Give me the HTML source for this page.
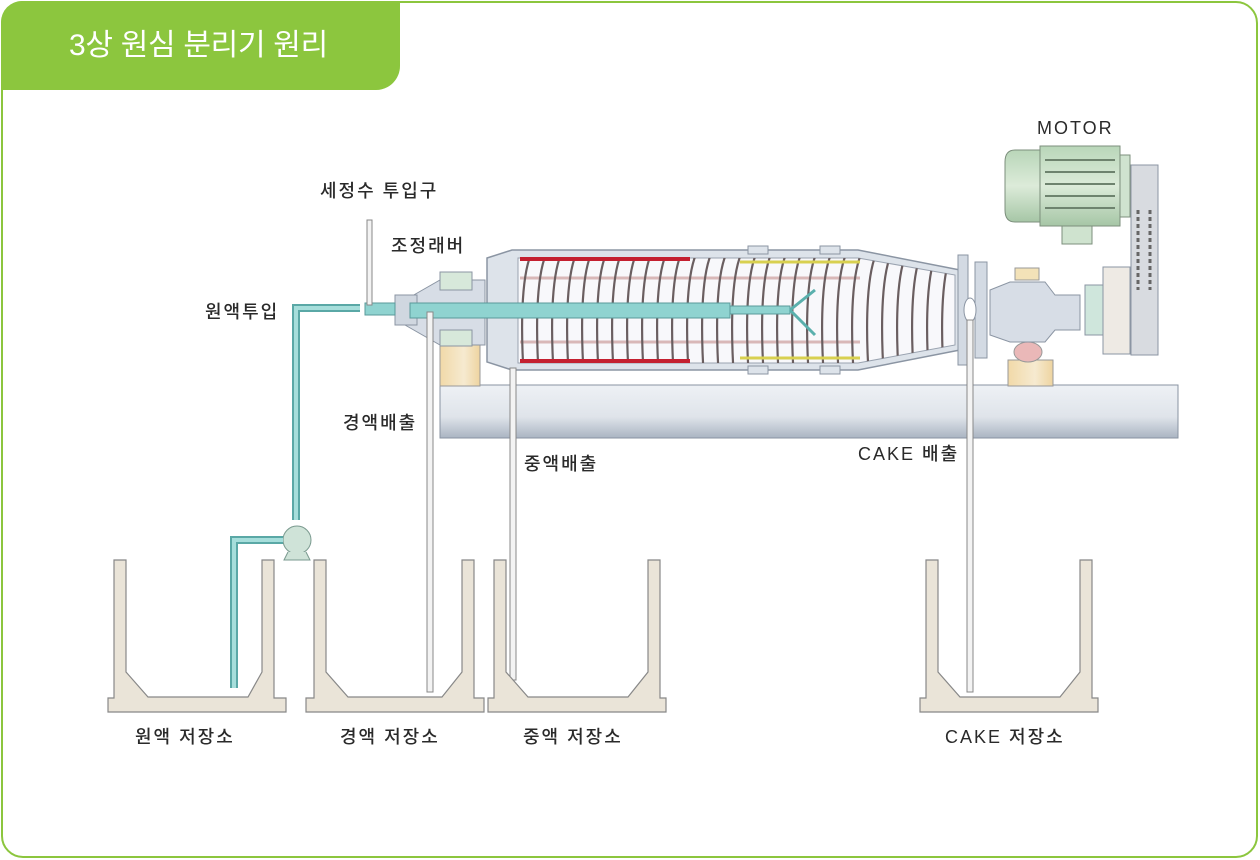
<!DOCTYPE html>
<html><head><meta charset="utf-8"><style>
html,body{margin:0;padding:0;background:#fff}
body{width:1260px;height:860px;position:relative;overflow:hidden;font-family:"Liberation Sans","Noto Sans CJK KR",sans-serif}
.frame{position:absolute;left:1px;top:1px;width:1257px;height:857px;border:2px solid #8cc63e;border-radius:22px;box-sizing:border-box}
.tab{position:absolute;left:1px;top:1px;width:399px;height:89px;background:#8cc63e;border-radius:21px 0 24px 0;color:#fff;font-size:30px;line-height:89px;padding-left:68px;box-sizing:border-box;letter-spacing:-0.3px}
svg{position:absolute;left:0;top:0}
text{font-family:"Liberation Sans","Noto Sans CJK KR",sans-serif;font-size:18px;fill:#2a2a2a;letter-spacing:2px;font-weight:500}
</style></head><body>
<div class="frame"></div>
<div class="tab">3상 원심 분리기 원리</div>
<svg width="1260" height="860" viewBox="0 0 1260 860">
<defs>
<linearGradient id="bar" x1="0" y1="0" x2="0" y2="1"><stop offset="0" stop-color="#eef1f5"/><stop offset="0.6" stop-color="#dfe4ea"/><stop offset="1" stop-color="#aab4c2"/></linearGradient>
<linearGradient id="mot" x1="0" y1="0" x2="0" y2="1"><stop offset="0" stop-color="#b9d6b9"/><stop offset="0.5" stop-color="#dcebd9"/><stop offset="1" stop-color="#a6c6a6"/></linearGradient>
<linearGradient id="foot" x1="0" y1="0" x2="1" y2="0"><stop offset="0" stop-color="#f1d9a8"/><stop offset="0.6" stop-color="#f6ead0"/><stop offset="1" stop-color="#eed4a0"/></linearGradient>
<pattern id="sp" width="15" height="130" patternUnits="userSpaceOnUse" x="520" y="250">
<path d="M13 0 C2 20 0 70 4 130" stroke="#6a5e60" stroke-width="2.2" fill="none"/>
</pattern>
<clipPath id="drumclip"><path d="M518 258 L858 258 L955 275 L955 345 L858 363 L518 363 Z"/></clipPath>
</defs>

<rect x="440" y="385" width="738" height="53" fill="url(#bar)" stroke="#8893a2"/>

<rect x="440" y="338" width="40" height="48" fill="url(#foot)" stroke="#999"/>
<rect x="448" y="325" width="24" height="15" fill="#cfe5d3" stroke="#999"/>
<rect x="1008" y="360" width="45" height="26" fill="url(#foot)" stroke="#999"/>
<ellipse cx="1028" cy="352" rx="14" ry="10" fill="#eab8b8" stroke="#999"/>
<rect x="1015" y="268" width="24" height="12" fill="#f3e2b8" stroke="#999"/>

<path d="M405 300 L440 280 L485 280 L485 345 L440 345 L405 325 Z" fill="#d7dde6" stroke="#8b95a3"/>
<rect x="440" y="272" width="32" height="18" fill="#d7e8da" stroke="#8b95a3"/>
<rect x="440" y="330" width="32" height="16" fill="#d7e8da" stroke="#8b95a3"/>
<rect x="395" y="295" width="22" height="30" fill="#d0d7e0" stroke="#8b95a3"/>

<path d="M487 258 L512 250 L858 250 L960 270 L960 350 L858 370 L512 370 L487 362 Z" fill="#dde3ea" stroke="#8b95a3" stroke-width="1.5"/>
<path d="M518 258 L858 258 L955 275 L955 345 L858 363 L518 363 Z" fill="#f8f8fb" stroke="#9aa3b0"/>
<line x1="520" y1="278" x2="860" y2="278" stroke="#d9b8b8" stroke-width="3"/>
<line x1="520" y1="342" x2="860" y2="342" stroke="#d9b8b8" stroke-width="3"/>
<rect x="518" y="258" width="437" height="105" fill="url(#sp)" clip-path="url(#drumclip)"/>
<line x1="520" y1="259" x2="690" y2="259" stroke="#c42030" stroke-width="4"/>
<line x1="520" y1="361" x2="690" y2="361" stroke="#c42030" stroke-width="4"/>
<line x1="740" y1="262" x2="860" y2="262" stroke="#d8d050" stroke-width="3"/>
<line x1="740" y1="358" x2="860" y2="358" stroke="#d8d050" stroke-width="3"/>
<rect x="748" y="246" width="20" height="8" fill="#dde3ea" stroke="#8b95a3"/>
<rect x="820" y="246" width="20" height="8" fill="#dde3ea" stroke="#8b95a3"/>
<rect x="748" y="366" width="20" height="8" fill="#dde3ea" stroke="#8b95a3"/>
<rect x="820" y="366" width="20" height="8" fill="#dde3ea" stroke="#8b95a3"/>

<rect x="365" y="303" width="30" height="12" fill="#8fd3d0" stroke="#5a9a9a"/>
<rect x="410" y="303" width="320" height="15" fill="#8fd3d0" stroke="#5a9a9a"/>
<rect x="730" y="306" width="60" height="8" fill="#8fd3d0" stroke="#5a9a9a"/>
<path d="M790 310 L815 290 M790 310 L815 335" stroke="#5ab0ad" stroke-width="3"/>

<rect x="958" y="255" width="10" height="110" fill="#d3dae3" stroke="#8b95a3"/>
<rect x="975" y="262" width="12" height="96" fill="#d3dae3" stroke="#8b95a3"/>
<ellipse cx="970" cy="310" rx="6" ry="12" fill="#fff" stroke="#8b95a3"/>
<path d="M990 290 L1010 282 L1045 282 L1055 295 L1080 295 L1080 330 L1055 330 L1045 342 L1010 342 L990 335 Z" fill="#d7dde6" stroke="#8b95a3"/>
<rect x="1085" y="285" width="20" height="50" fill="#cfe6dc" stroke="#8b95a3"/>
<rect x="1103" y="267" width="27" height="87" fill="#eeeae4" stroke="#8b95a3"/>

<path d="M1015 150 L1040 150 L1040 222 L1015 222 Q1005 222 1005 210 L1005 162 Q1005 150 1015 150 Z" fill="url(#mot)" stroke="#7c8f7c"/>
<rect x="1040" y="146" width="80" height="80" fill="url(#mot)" stroke="#7c8f7c"/>
<g stroke="#6e836e" stroke-width="2"><line x1="1045" y1="160" x2="1115" y2="160"/><line x1="1045" y1="172" x2="1115" y2="172"/><line x1="1045" y1="184" x2="1115" y2="184"/><line x1="1045" y1="196" x2="1115" y2="196"/><line x1="1045" y1="208" x2="1115" y2="208"/></g>
<rect x="1120" y="155" width="10" height="62" fill="#cfe3cf" stroke="#7c8f7c"/>
<rect x="1062" y="226" width="30" height="18" fill="#cfe3cf" stroke="#7c8f7c"/>
<rect x="1131" y="165" width="27" height="190" fill="#d8dbe0" stroke="#8b95a3"/>
<g stroke="#666" stroke-width="3" stroke-dasharray="4 3"><line x1="1138" y1="210" x2="1138" y2="290"/><line x1="1150" y1="210" x2="1150" y2="290"/></g>

<rect x="367" y="220" width="5" height="85" fill="#f3f3f3" stroke="#888"/>

<path d="M360 308 L296 308 L296 520" stroke="#5aa8a6" stroke-width="8" fill="none"/>
<path d="M360 308 L296 308 L296 520" stroke="#a6dedb" stroke-width="4" fill="none"/>
<circle cx="297" cy="540" r="14" fill="#cfe3d8" stroke="#7a9a8f"/>
<path d="M288 552 L284 560 L310 560 L306 552" fill="#cfe3d8" stroke="#7a9a8f"/>
<path d="M283 540 L234 540 L234 688" stroke="#5aa8a6" stroke-width="8" fill="none"/>
<path d="M283 540 L234 540 L234 688" stroke="#a6dedb" stroke-width="4" fill="none"/>

<g fill="#f3f3f3" stroke="#888"><rect x="427" y="312" width="6" height="380"/><rect x="510" y="368" width="6" height="312"/><rect x="967" y="320" width="6" height="372"/></g>

<g fill="#eae4d8" stroke="#888" stroke-width="1.2">
<path d="M114 560 L126 560 L126 672 L148 697 L248 697 L262 672 L262 560 L274 560 L274 698 L286 698 L286 712 L108 712 L108 698 L114 698 Z"/>
<path d="M314 560 L326 560 L326 672 L348 697 L442 697 L462 672 L462 560 L474 560 L474 698 L484 698 L484 712 L306 712 L306 698 L314 698 Z"/>
<path d="M494 560 L506 560 L506 672 L528 697 L628 697 L648 672 L648 560 L660 560 L660 698 L666 698 L666 712 L488 712 L488 698 L494 698 Z"/>
<path d="M926 560 L938 560 L938 672 L960 697 L1060 697 L1080 672 L1080 560 L1092 560 L1092 698 L1098 698 L1098 712 L920 712 L920 698 L926 698 Z"/>
</g>

<text x="320" y="197">세정수 투입구</text>
<text x="391" y="252">조정래버</text>
<text x="205" y="318">원액투입</text>
<text x="343" y="429">경액배출</text>
<text x="524" y="470">중액배출</text>
<text x="858" y="460">CAKE 배출</text>
<text x="1037" y="134">MOTOR</text>
<text x="135" y="743">원액  저장소</text>
<text x="340" y="743">경액  저장소</text>
<text x="523" y="743">중액  저장소</text>
<text x="945" y="743">CAKE 저장소</text>
</svg>
</body></html>
